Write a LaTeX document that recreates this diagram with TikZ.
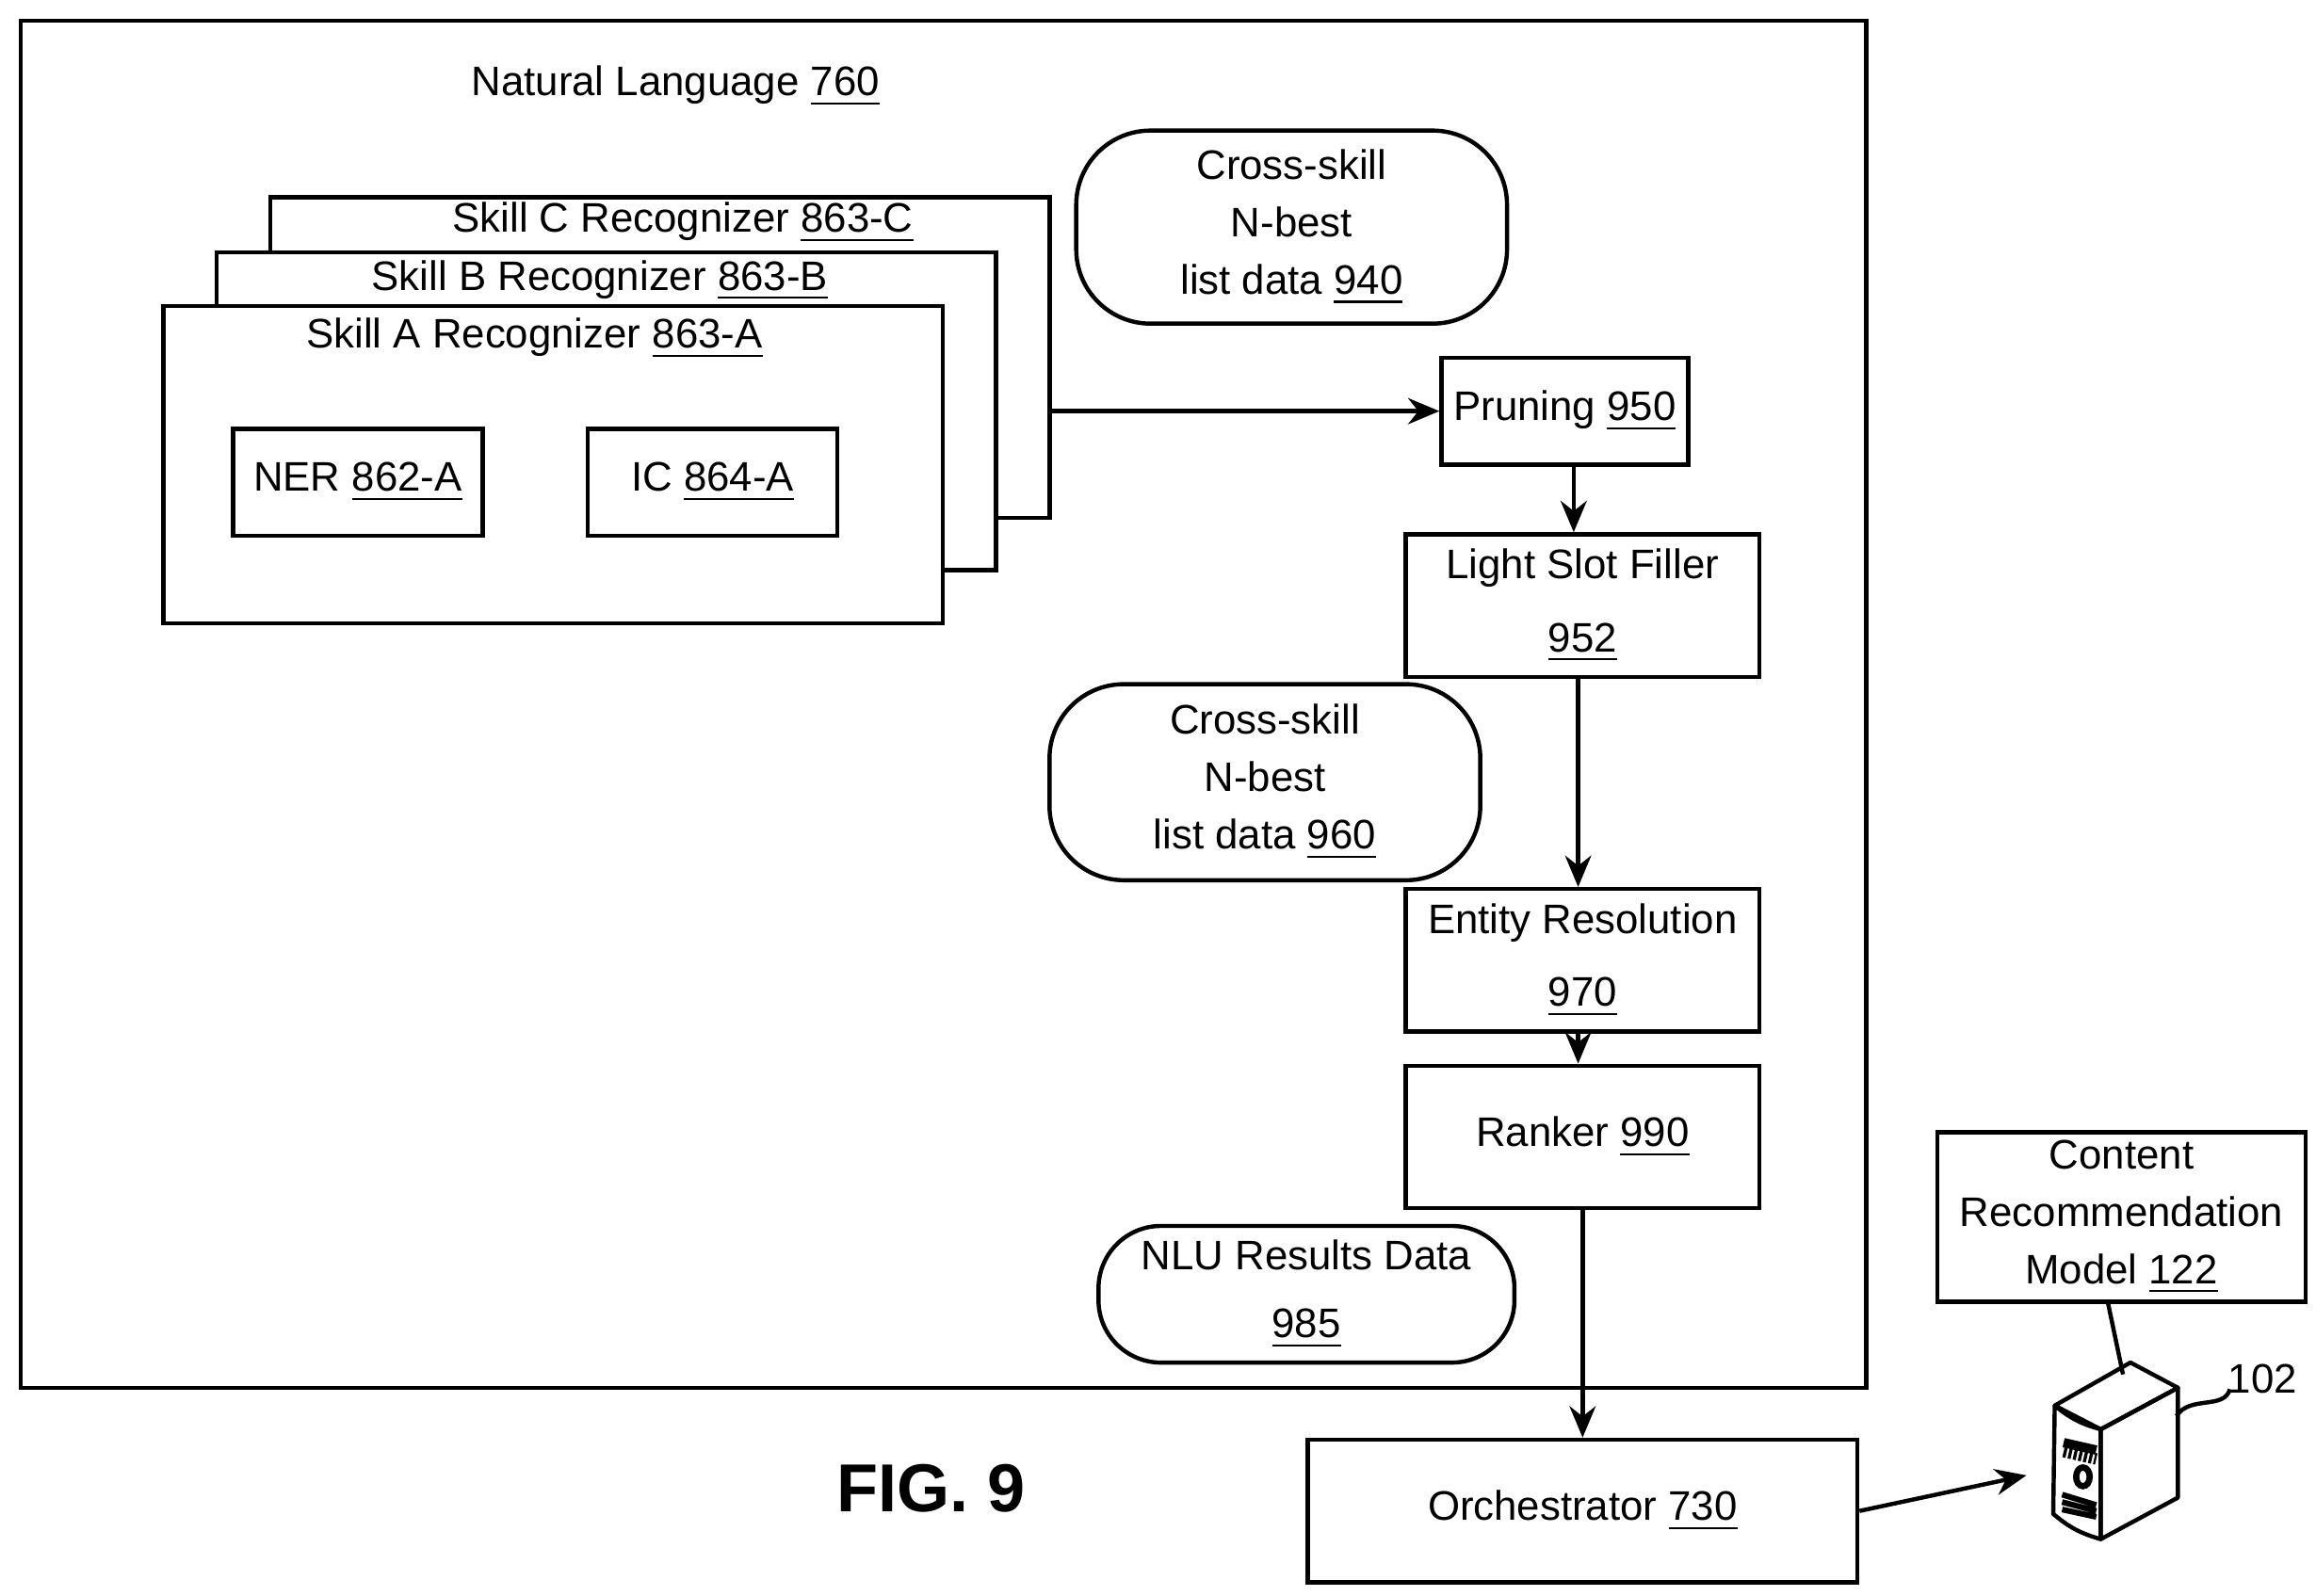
\documentclass[tikz,border=0pt]{standalone}
\usepackage{fontspec}
\setmainfont{Liberation Sans}
\usetikzlibrary{arrows.meta}
\begin{document}
\begin{tikzpicture}[x=0.01cm,y=-0.01cm,line width=0.8pt,
 box/.style={draw,fill=white,inner sep=0pt},
 rbox/.style={draw,rounded corners=0.5cm,align=center,inner sep=0pt},
 lbl/.style={font=\fontsize{7.9}{11}\selectfont,align=center},
 arr/.style={-{Stealth[length=6pt,width=5pt]}}]
\useasboundingbox (0,0) rectangle (1560,1075);
\draw (14,14) rectangle (1257,935);
\node[lbl] (nl) at (455,58) {Natural Language \underline{760}};
% stacked recognizers
\draw[fill=white] (182,133) rectangle (707,349);
\node[lbl] (sc) at (460,150) {Skill C Recognizer \underline{863-C}};
\draw[fill=white] (146,170) rectangle (671,384);
\node[lbl] (sb) at (404,189) {Skill B Recognizer \underline{863-B}};
\draw[fill=white] (110,206) rectangle (635,420);
\node[lbl] (sa) at (360,228) {Skill A Recognizer \underline{863-A}};
\coordinate (stackR) at (707,277);
\node[box,lbl,minimum width=1.68cm,minimum height=0.72cm] (ner) at (241,325) {NER \underline{862-A}};
\node[box,lbl,minimum width=1.68cm,minimum height=0.72cm] (ic) at (480,325) {IC \underline{864-A}};
\node[rbox,lbl,minimum width=2.9cm,minimum height=1.3cm] (cs1) at (870,153) {Cross-skill\\N-best\\list data \underline{940}};
\node[box,lbl,minimum width=1.66cm,minimum height=0.72cm] (prun) at (1054,277) {Pruning \underline{950}};
\node[box,lbl,minimum width=2.38cm,minimum height=0.96cm] (lsf) at (1066,408) {Light Slot Filler\\[3pt]\underline{952}};
\node[rbox,lbl,minimum width=2.9cm,minimum height=1.32cm] (cs2) at (852,527) {Cross-skill\\N-best\\list data \underline{960}};
\node[box,lbl,minimum width=2.38cm,minimum height=0.96cm] (er) at (1066,647) {Entity Resolution\\[3pt]\underline{970}};
\node[box,lbl,minimum width=2.38cm,minimum height=0.96cm] (rk) at (1066,766) {Ranker \underline{990}};
\node[rbox,rounded corners=0.42cm,lbl,minimum width=2.8cm,minimum height=0.92cm] (nlu) at (880,872) {NLU Results Data\\[2pt]\underline{985}};
\node[box,lbl,minimum width=3.7cm,minimum height=0.96cm] (orc) at (1066,1018) {Orchestrator \underline{730}};
\node[box,lbl,minimum width=2.48cm,minimum height=1.14cm] (crm) at (1429,820) {Content\\Recommendation\\Model \underline{122}};
\node[font=\bfseries\fontsize{13}{15}\selectfont] (fig) at (627,1003) {FIG. 9};
% server
\draw[fill=white,line join=round] (1384,947) -- (1435,918) -- (1467,935) -- (1415,963) -- cycle;
\draw[line join=round] (1415,963) -- (1467,935) -- (1467,1009) -- (1415,1037) -- cycle;
\draw[line join=round] (1384,947) to[bend right=12] (1415,963) -- (1415,1037) to[bend left=12] (1383,1020) -- cycle;
\draw[line width=1.8pt] (1390,972) -- (1412,977);
\draw[line width=2.2pt,dash pattern=on 0.6pt off 0.4pt] (1390,978) -- (1412,983);
\draw[line width=1.2pt] (1403,995) ellipse (1.3pt and 1.8pt);
\draw[line width=1.1pt] (1389,1007) -- (1412,1014) (1389,1012) -- (1412,1018) (1389,1017) -- (1412,1022);
\node[lbl] (lab102) at (1524,929) {102};
\draw (1466,954) .. controls (1475,940) and (1498,950) .. (1502,936);
% connectors
\draw[arr] (stackR) -- (prun.west);
\draw[arr] (prun.south -| 1060,0) -- (lsf.north -| 1060,0);
\draw[arr] (lsf.south -| 1063,0) -- (er.north -| 1063,0);
\draw[arr] (er.south -| 1063,0) -- (rk.north -| 1063,0);
\draw[arr] (rk.south -| 1066,0) -- (orc.north -| 1066,0);
\draw[arr] (orc.east) -- (1365,994);
\draw (crm.south -| 1420,0) -- (1430,926);
\end{tikzpicture}
\end{document}
